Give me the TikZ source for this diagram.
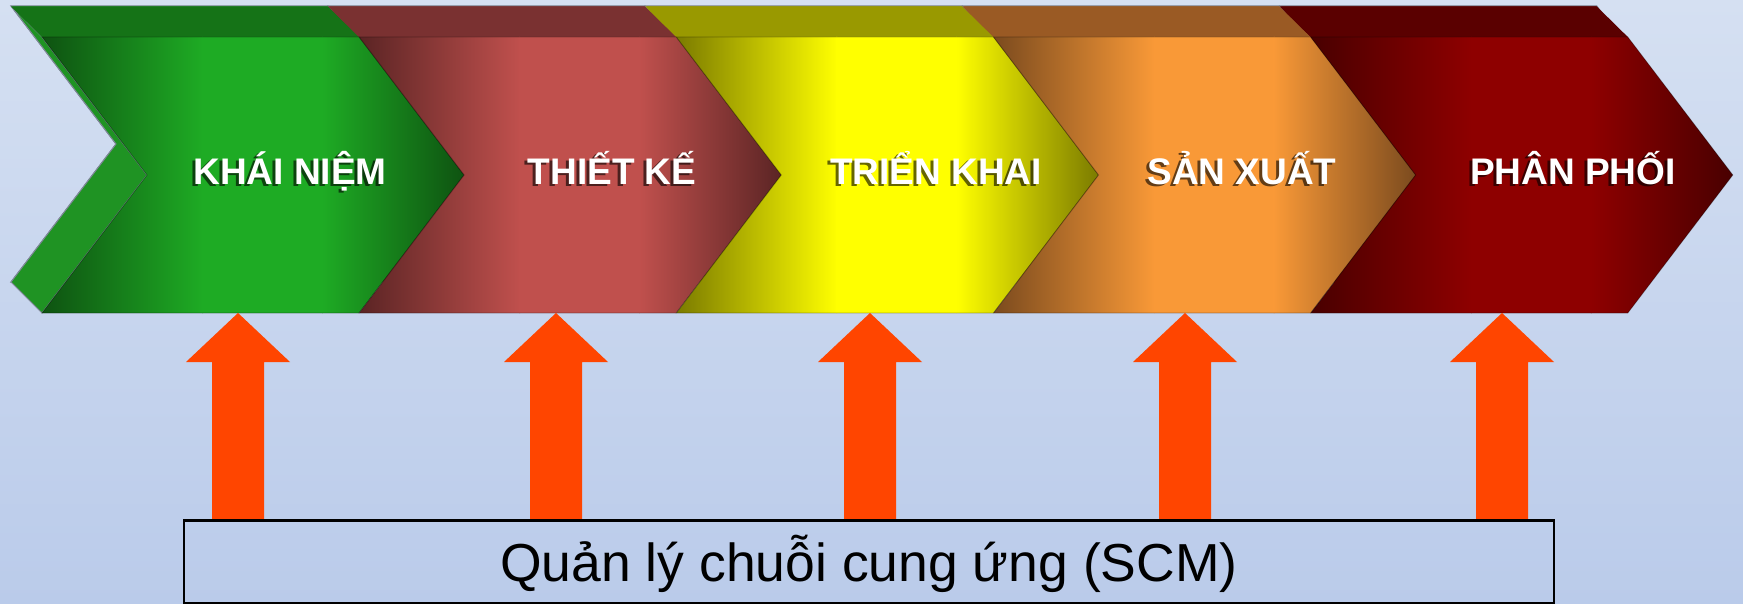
\documentclass[tikz,border=0pt]{standalone}
\usepackage{fontspec}
\setmainfont{Liberation Sans}
\usetikzlibrary{calc}
\definecolor{bgtop}{HTML}{D5E0F2}
\definecolor{bgbot}{HTML}{BACBEA}
\definecolor{arr}{HTML}{FF4500}
\definecolor{edgegray}{HTML}{7F8898}
% green
\definecolor{dark0}{HTML}{0E5211}
\definecolor{bright0}{HTML}{1EAB24}
\definecolor{top0}{HTML}{157317}
\definecolor{side0}{HTML}{1F9323}
% red
\definecolor{dark1}{HTML}{5A2424}
\definecolor{bright1}{HTML}{C0504D}
\definecolor{top1}{HTML}{7A3131}
\definecolor{side1}{HTML}{7A3131}
% yellow
\definecolor{dark2}{HTML}{7A7A00}
\definecolor{bright2}{HTML}{FFFF00}
\definecolor{top2}{HTML}{999900}
\definecolor{side2}{HTML}{999900}
% orange
\definecolor{dark3}{HTML}{7A4A1E}
\definecolor{bright3}{HTML}{F99937}
\definecolor{top3}{HTML}{9A5A24}
\definecolor{side3}{HTML}{9A5A24}
% dark red
\definecolor{dark4}{HTML}{480000}
\definecolor{bright4}{HTML}{8E0000}
\definecolor{top4}{HTML}{5A0000}
\definecolor{side4}{HTML}{5A0000}
\tikzset{
  lab/.style={font=\bfseries\fontsize{37}{40}\selectfont, text=white, inner sep=0pt, anchor=base},
  labshadow/.style={font=\bfseries\fontsize{37}{40}\selectfont, text=black, text opacity=0.6, inner sep=0pt, anchor=base},
  blockarrow/.style={fill=arr},
  scmbox/.style={draw=black, line width=2pt, minimum width=1370pt, minimum height=82pt,
    inner sep=0pt, text height=39pt, text depth=0pt, font=\fontsize{53.5}{60}\selectfont},
  frontedge/.style={draw=black, draw opacity=0.3, line width=0.8pt},
  backedge/.style={draw=edgegray, line width=1pt}
}
\begin{document}
\begin{tikzpicture}[x=1pt,y=-1pt]
\useasboundingbox (0,0) rectangle (1743,604);
\shade[top color=bgtop,bottom color=bgbot] (0,0) rectangle (1743,604);
% back faces (extrusion)
\foreach \i/\xo in {0/42,1/359.2,2/676.4,3/993.6,4/1310.8}{
  \filldraw[fill=side\i, backedge] (\xo-31,6) -- (\xo+286,6) -- (\xo+391,144) -- (\xo+286,282)
     -- (\xo-31,282) -- (\xo+74,144) -- cycle;
}
% left side faces of the first chevron
\filldraw[fill=side0, backedge] (11,6) -- (116,144) -- (11,282) -- (42,313) -- (147,175) -- (42,37) -- cycle;
\foreach \i/\xo in {0/42,1/359.2,2/676.4,3/993.6,4/1310.8}{
  \fill[top\i] (\xo-31,6.5) -- (\xo+286,6.5) -- (\xo+317,37) -- (\xo,37) -- cycle;
}
% front faces
\foreach \i/\xo in {0/42,1/359.2,2/676.4,3/993.6,4/1310.8}{
  \begin{scope}
    \clip (\xo,37) -- (\xo+317,37) -- (\xo+422,175) -- (\xo+317,313) -- (\xo,313) -- (\xo+105,175) -- cycle;
    \shade[left color=dark\i, right color=bright\i] (\xo-1,30) rectangle (\xo+161,320);
    \fill[bright\i] (\xo+160,30) rectangle (\xo+281,320);
    \shade[left color=bright\i, right color=dark\i] (\xo+280,30) rectangle (\xo+423,320);
  \end{scope}
  \path[frontedge] (\xo,37) -- (\xo+317,37) -- (\xo+422,175) -- (\xo+317,313) -- (\xo,313) -- (\xo+105,175) -- cycle;
  \coordinate (c\i) at (\xo+211,175);
}
% labels
\foreach \i/\lab/\lx in {0/KHÁI NIỆM/290,1/THIẾT KẾ/612,2/TRIỂN KHAI/936,3/SẢN XUẤT/1242,4/PHÂN PHỐI/1573}{
  \node[labshadow] (s\i) at (\lx-3,186.5) {\lab};
  \node[lab] (l\i) at (\lx,185) {\lab};
}
% bottom box
\node[scmbox] (box) at (869,561.5) {Quản lý chuỗi cung ứng (SCM)};
% block arrows from box up to chevrons
\foreach \i/\ax in {0/238,1/556,2/870,3/1185,4/1502}{
  \coordinate (t\i) at (\ax,313);
  \fill[blockarrow] (t\i) -- ++(52,49) -- ++(-26,0) -- (\ax+26,520) -- (\ax-26,520)
     -- (\ax-26,362) -- (\ax-52,362) -- cycle;
}
\draw[line width=2pt] (box.north west) -- (box.north east);
\end{tikzpicture}
\end{document}
